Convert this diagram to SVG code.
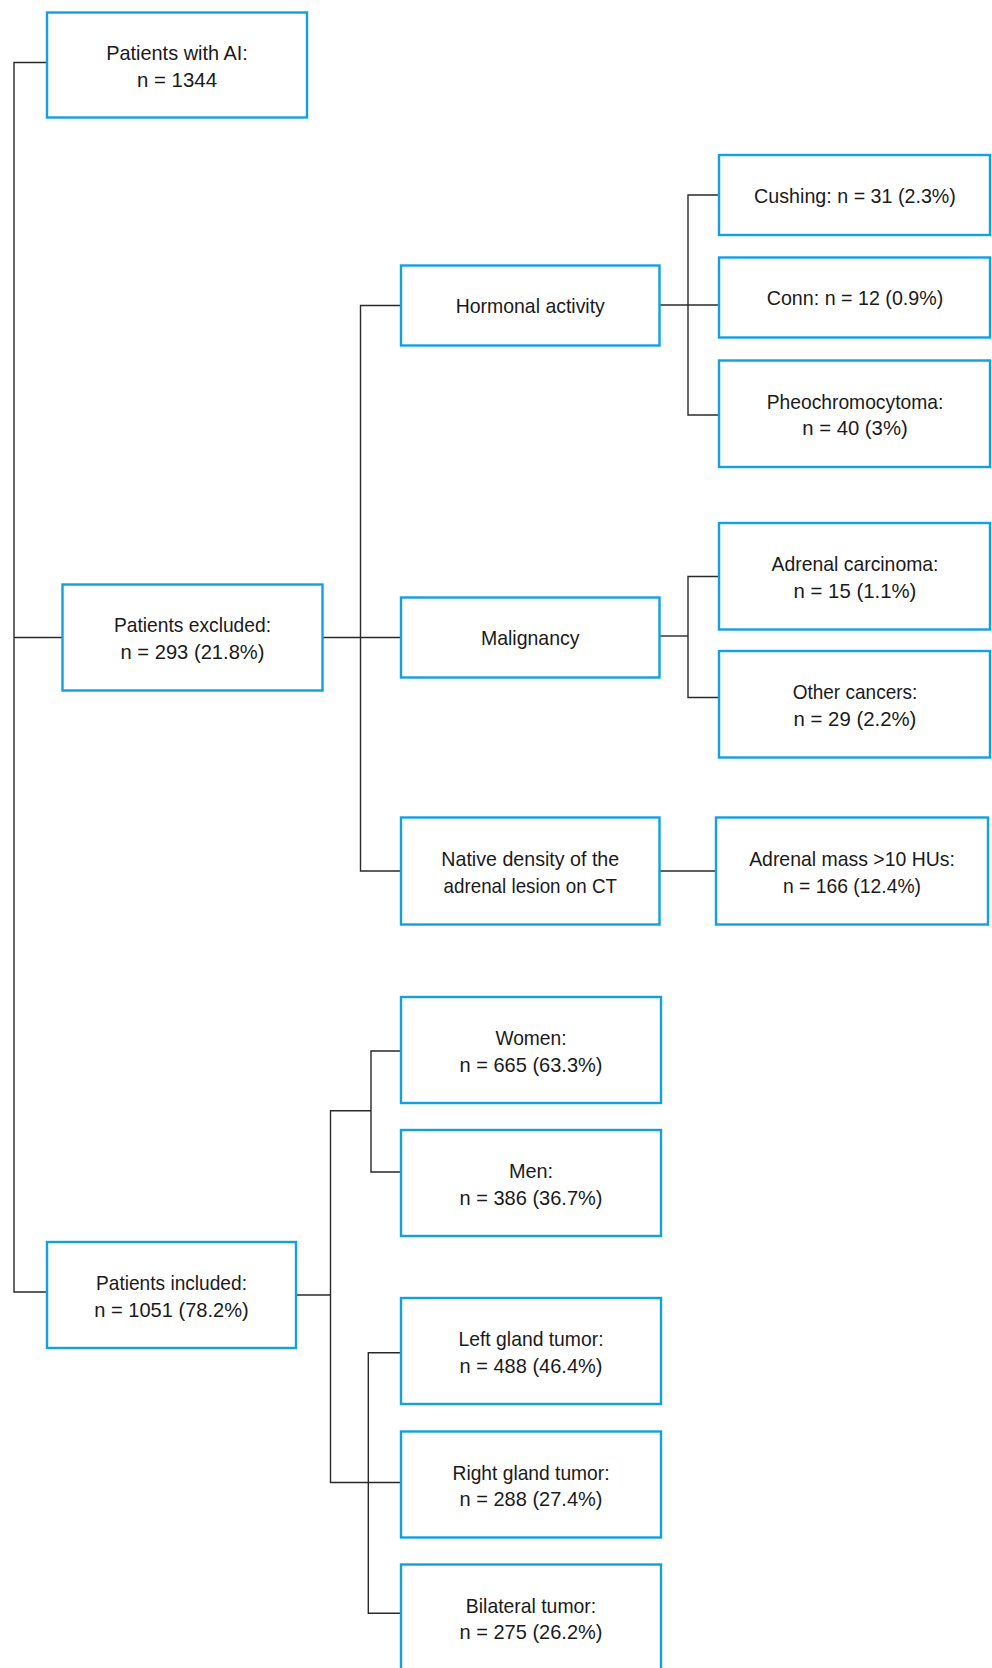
<svg xmlns="http://www.w3.org/2000/svg" width="992" height="1668" viewBox="0 0 992 1668">
<style>
.box{fill:#ffffff;stroke:#12a0e0;stroke-width:2.4}
.t{font-family:"Liberation Sans",Arial,sans-serif;font-size:21px;fill:#1a1a1a;text-anchor:middle}
.c{fill:none;stroke:#2a2a2a;stroke-width:1.4}
</style>
<rect width="992" height="1668" fill="#ffffff"/>
<g id="connectors">
<path class="c" d="M47,62.5 H14 V1292 H47"/>
<path class="c" d="M14,637.5 H62.5"/>
<path class="c" d="M322.5,637.5 H401"/>
<path class="c" d="M401,305.5 H360.5 V871 H401"/>
<path class="c" d="M659.5,305 H719"/>
<path class="c" d="M719,195 H688 V415 H719"/>
<path class="c" d="M659.5,636 H688"/>
<path class="c" d="M719,576.5 H688 V697.5 H719"/>
<path class="c" d="M659.5,871 H716"/>
<path class="c" d="M296,1295 H330.5"/>
<path class="c" d="M371,1110.7 H330.5 V1482.5 H401"/>
<path class="c" d="M401,1051 H371 V1172 H401"/>
<path class="c" d="M401,1352.7 H368.3 V1613.3 H401"/>
</g>
<g id="n1"><rect class="box" x="47" y="12.5" width="260" height="105"/>
<text class="t" x="177" y="60" textLength="141.7" lengthAdjust="spacingAndGlyphs">Patients with AI:</text>
<text class="t" x="177" y="86.5" textLength="80" lengthAdjust="spacingAndGlyphs">n = 1344</text></g>
<g id="n2"><rect class="box" x="62.5" y="584.5" width="260" height="106"/>
<text class="t" x="192.5" y="632" textLength="157" lengthAdjust="spacingAndGlyphs">Patients excluded:</text>
<text class="t" x="192.5" y="659" textLength="144" lengthAdjust="spacingAndGlyphs">n = 293 (21.8%)</text></g>
<g id="n3"><rect class="box" x="401" y="265.5" width="258.5" height="80"/>
<text class="t" x="530.25" y="313.3" textLength="149.2" lengthAdjust="spacingAndGlyphs">Hormonal activity</text></g>
<g id="n4"><rect class="box" x="719" y="155" width="271" height="80"/>
<text class="t" x="855" y="202.8" textLength="201.8" lengthAdjust="spacingAndGlyphs">Cushing: n = 31 (2.3%)</text></g>
<g id="n5"><rect class="box" x="719" y="257.5" width="271" height="80"/>
<text class="t" x="855" y="305.3" textLength="176.6" lengthAdjust="spacingAndGlyphs">Conn: n = 12 (0.9%)</text></g>
<g id="n6"><rect class="box" x="719" y="360.5" width="271" height="106.5"/>
<text class="t" x="855" y="408.7" textLength="176.6" lengthAdjust="spacingAndGlyphs">Pheochromocytoma:</text>
<text class="t" x="855" y="435.3" textLength="105.4" lengthAdjust="spacingAndGlyphs">n = 40 (3%)</text></g>
<g id="n7"><rect class="box" x="401" y="597.5" width="258.5" height="80"/>
<text class="t" x="530.25" y="645.3" textLength="98.7" lengthAdjust="spacingAndGlyphs">Malignancy</text></g>
<g id="n8"><rect class="box" x="719" y="523" width="271" height="106.5"/>
<text class="t" x="855" y="571.2" textLength="167" lengthAdjust="spacingAndGlyphs">Adrenal carcinoma:</text>
<text class="t" x="855" y="597.8" textLength="122.8" lengthAdjust="spacingAndGlyphs">n = 15 (1.1%)</text></g>
<g id="n9"><rect class="box" x="719" y="651" width="271" height="106.5"/>
<text class="t" x="855" y="699.2" textLength="124.7" lengthAdjust="spacingAndGlyphs">Other cancers:</text>
<text class="t" x="855" y="725.8" textLength="122.8" lengthAdjust="spacingAndGlyphs">n = 29 (2.2%)</text></g>
<g id="n10"><rect class="box" x="401" y="817.5" width="258.5" height="107"/>
<text class="t" x="530.25" y="865.7" textLength="177.9" lengthAdjust="spacingAndGlyphs">Native density of the</text>
<text class="t" x="530.25" y="892.5" textLength="173.4" lengthAdjust="spacingAndGlyphs">adrenal lesion on CT</text></g>
<g id="n11"><rect class="box" x="716" y="817.5" width="272" height="107"/>
<text class="t" x="852" y="865.7" textLength="205.7" lengthAdjust="spacingAndGlyphs">Adrenal mass &gt;10 HUs:</text>
<text class="t" x="852" y="892.5" textLength="138" lengthAdjust="spacingAndGlyphs">n = 166 (12.4%)</text></g>
<g id="n12"><rect class="box" x="401" y="997" width="260" height="106"/>
<text class="t" x="531" y="1045" textLength="71.1" lengthAdjust="spacingAndGlyphs">Women:</text>
<text class="t" x="531" y="1071.5" textLength="143.1" lengthAdjust="spacingAndGlyphs">n = 665 (63.3%)</text></g>
<g id="n13"><rect class="box" x="401" y="1130" width="260" height="106"/>
<text class="t" x="531" y="1178" textLength="44.2" lengthAdjust="spacingAndGlyphs">Men:</text>
<text class="t" x="531" y="1204.5" textLength="143.1" lengthAdjust="spacingAndGlyphs">n = 386 (36.7%)</text></g>
<g id="n14"><rect class="box" x="47" y="1242" width="249" height="106"/>
<text class="t" x="171.5" y="1290" textLength="150.9" lengthAdjust="spacingAndGlyphs">Patients included:</text>
<text class="t" x="171.5" y="1316.5" textLength="154.4" lengthAdjust="spacingAndGlyphs">n = 1051 (78.2%)</text></g>
<g id="n15"><rect class="box" x="401" y="1298" width="260" height="106"/>
<text class="t" x="531" y="1346" textLength="145" lengthAdjust="spacingAndGlyphs">Left gland tumor:</text>
<text class="t" x="531" y="1372.5" textLength="143" lengthAdjust="spacingAndGlyphs">n = 488 (46.4%)</text></g>
<g id="n16"><rect class="box" x="401" y="1431.5" width="260" height="106"/>
<text class="t" x="531" y="1479.5" textLength="157" lengthAdjust="spacingAndGlyphs">Right gland tumor:</text>
<text class="t" x="531" y="1506" textLength="143" lengthAdjust="spacingAndGlyphs">n = 288 (27.4%)</text></g>
<g id="n17"><rect class="box" x="401" y="1564.5" width="260" height="106"/>
<text class="t" x="531" y="1612.5" textLength="130.3" lengthAdjust="spacingAndGlyphs">Bilateral tumor:</text>
<text class="t" x="531" y="1639" textLength="143" lengthAdjust="spacingAndGlyphs">n = 275 (26.2%)</text></g>
</svg>
